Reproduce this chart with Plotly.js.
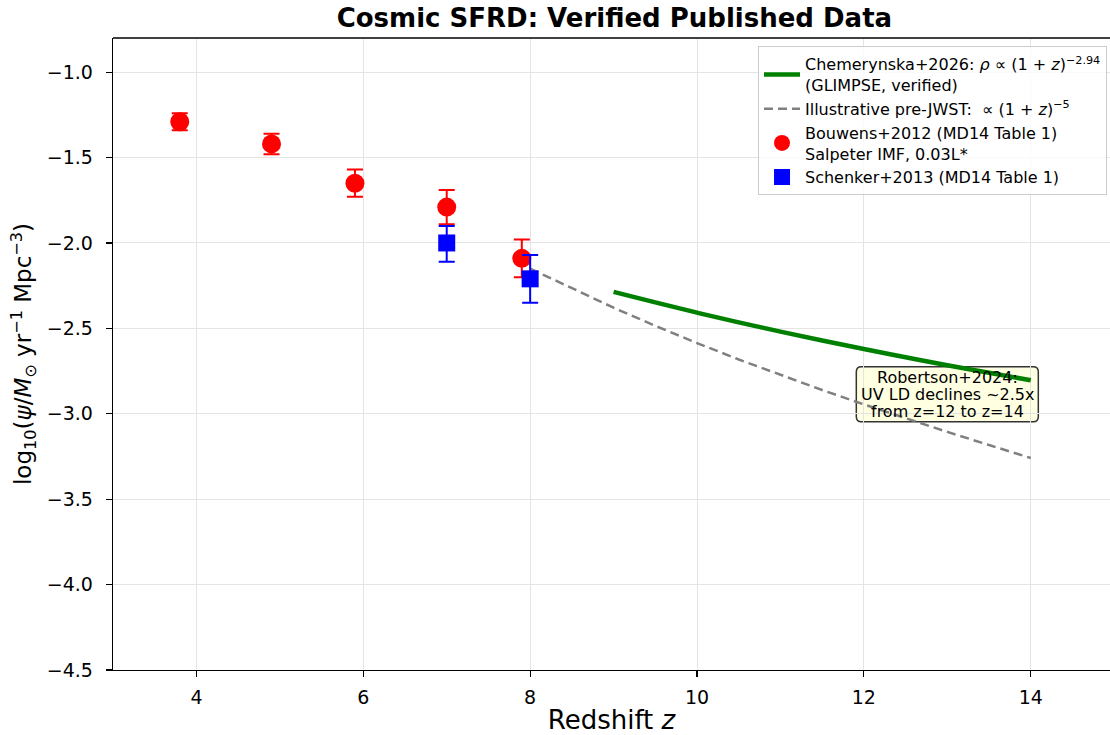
<!DOCTYPE html>
<html>
<head>
<meta charset="utf-8">
<script src="https://cdn.plot.ly/plotly-3.0.1.min.js"></script>
<style>html,body{margin:0;padding:0;background:#fff;}#chart{width:1110px;height:735px;}</style>
</head>
<body>
<div id="chart"></div>
<script>
// Bouwens+2012 (MD14 Table 1)
const bouwensZ = [3.8, 4.9, 5.9, 7.0, 7.9];
const bouwensY = [-1.29, -1.42, -1.65, -1.79, -2.09];
const bouwensErr = [0.05, 0.06, 0.08, 0.10, 0.11];
// Schenker+2013 (MD14 Table 1)
const schenkerZ = [7.0, 8.0];
const schenkerY = [-2.00, -2.21];
const schenkerErrPlus = [0.10, 0.14];
const schenkerErrMinus = [0.11, 0.14];
// Chemerynska+2026 curve
const chemZ = [9, 9.5, 10, 10.5, 11, 11.5, 12, 12.5, 13, 13.5, 14];
const chemY = [-2.286, -2.348, -2.408, -2.465, -2.519, -2.571, -2.621, -2.669, -2.716, -2.760, -2.804];
// Illustrative pre-JWST curve
const preZ = [8, 8.5, 9, 9.5, 10, 10.5, 11, 11.5, 12, 12.5, 13, 13.5, 14];
const preY = [-2.15, -2.266, -2.379, -2.485, -2.586, -2.682, -2.773, -2.861, -2.945, -3.027, -3.106, -3.183, -3.259];
// Tick labels
const xTicks = [4, 6, 8, 10, 12, 14];
const yTicks = [-4.5, -4.0, -3.5, -3.0, -2.5, -2.0, -1.5, -1.0];
// Annotation text lines
const noteLines = ['Robertson+2024:', 'UV LD declines ~2.5x', 'from z=12 to z=14'];
const noteZ = 13.0;
const noteY = -2.885;

const font = 'DejaVu Sans, sans-serif';

const traces = [
  {
    x: preZ, y: preY, type: 'scatter', mode: 'lines',
    name: 'Illustrative pre-JWST:  ∝ (1 + <i>z</i>)<sup>−5</sup>',
    line: {color: '#808080', width: 2.5, dash: '9px,5px'},
    legendrank: 2
  },
  {
    x: bouwensZ, y: bouwensY, type: 'scatter', mode: 'markers',
    name: 'Bouwens+2012 (MD14 Table 1)<br>Salpeter IMF, 0.03L*',
    marker: {color: '#ff0000', size: 19, symbol: 'circle'},
    error_y: {type: 'data', array: bouwensErr, visible: true, color: '#ff0000', thickness: 2, width: 8},
    legendrank: 3
  },
  {
    x: schenkerZ, y: schenkerY, type: 'scatter', mode: 'markers',
    name: 'Schenker+2013 (MD14 Table 1)',
    marker: {color: '#0000ff', size: 17, symbol: 'square'},
    error_y: {type: 'data', symmetric: false, array: schenkerErrPlus, arrayminus: schenkerErrMinus, visible: true, color: '#0000ff', thickness: 2, width: 8},
    legendrank: 4
  },
  {
    x: chemZ, y: chemY, type: 'scatter', mode: 'lines',
    name: 'Chemerynska+2026: <i>ρ</i> ∝ (1 + <i>z</i>)<sup>−2.94</sup><br>(GLIMPSE, verified)',
    line: {color: '#008000', width: 4.5, shape: 'spline'},
    legendrank: 1
  }
];

// rounded box for the note (pixel-based sizes converted via axis ranges below)
const W = 1110, H = 735, L = 113, R = 0, T = 38, B = 65;
const xr = [3, 14.95], yr = [-4.5, -0.8];
const pxX = (xr[1] - xr[0]) / (W - L - R);
const pxY = (yr[1] - yr[0]) / (H - T - B);
const halfW = 91, halfH = 27.5, rad = 5;
const bx0 = noteZ - halfW * pxX, bx1 = noteZ + halfW * pxX;
const by0 = noteY - halfH * pxY, by1 = noteY + halfH * pxY;
const rx = rad * pxX, ry = rad * pxY;
const boxPath = `M ${bx0 + rx},${by1} L ${bx1 - rx},${by1} Q ${bx1},${by1} ${bx1},${by1 - ry} ` +
  `L ${bx1},${by0 + ry} Q ${bx1},${by0} ${bx1 - rx},${by0} L ${bx0 + rx},${by0} Q ${bx0},${by0} ${bx0},${by0 + ry} ` +
  `L ${bx0},${by1 - ry} Q ${bx0},${by1} ${bx0 + rx},${by1} Z`;

const layout = {
  width: W, height: H,
  margin: {l: L, r: R, t: T, b: B, pad: 0},
  paper_bgcolor: '#ffffff', plot_bgcolor: '#ffffff',
  font: {family: font, color: '#000', size: 18},
  title: {text: '<b>Cosmic SFRD: Verified Published Data</b>', font: {family: font, size: 26, color: '#000'}, x: 0.5535, xanchor: 'center', y: 0.975, yanchor: 'middle'},
  showlegend: true,
  legend: {
    x: 0.997, xanchor: 'right', y: 0.987, yanchor: 'top',
    bgcolor: 'rgba(255,255,255,0.8)', bordercolor: '#cccccc', borderwidth: 1,
    font: {family: font, size: 16, color: '#000'},
    tracegroupgap: 0, itemwidth: 36
  },
  xaxis: {
    range: xr, tickvals: xTicks, ticktext: xTicks.map(String),
    showgrid: true, gridcolor: '#e4e4e4', gridwidth: 1,
    zeroline: false, showline: true, linecolor: '#000', linewidth: 1.3,
    ticks: 'outside', ticklen: 6, tickwidth: 1.2, tickcolor: '#000',
    ticklabelstandoff: 4,
    tickfont: {family: font, size: 19},
    title: {text: 'Redshift <i>z</i>', font: {family: font, size: 26}, standoff: 4}
  },
  yaxis: {
    range: yr, tickvals: yTicks, tickformat: '.1f',
    showgrid: true, gridcolor: '#e4e4e4', gridwidth: 1,
    zeroline: false, showline: true, linecolor: '#000', linewidth: 1.3,
    ticks: 'outside', ticklen: 6, tickwidth: 1.2, tickcolor: '#000',
    ticklabelstandoff: 9,
    tickfont: {family: font, size: 19},
    title: {text: 'log<sub>10</sub>(<i>ψ</i>/<i>M</i><sub>⊙</sub> yr<sup>−1</sup> Mpc<sup>−3</sup>)', font: {family: font, size: 23}, standoff: 8}
  },
  shapes: [
    {type: 'line', xref: 'paper', yref: 'paper', x0: 0, x1: 1, y0: 1, y1: 1, line: {color: '#000', width: 1.3}},
    {type: 'path', xref: 'x', yref: 'y', path: boxPath, layer: 'below', fillcolor: 'rgba(255,255,224,0.92)', line: {color: '#333333', width: 1.5}}
  ],
  annotations: noteLines.map((t, i) => ({
    x: noteZ, y: noteY, xref: 'x', yref: 'y', showarrow: false,
    text: t, yshift: (1 - i) * 17,
    xanchor: 'center', yanchor: 'middle',
    font: {family: font, size: 16, color: '#000'}
  }))
};

Plotly.newPlot('chart', traces, layout, {displayModeBar: false, staticPlot: true});
</script>
</body>
</html>
